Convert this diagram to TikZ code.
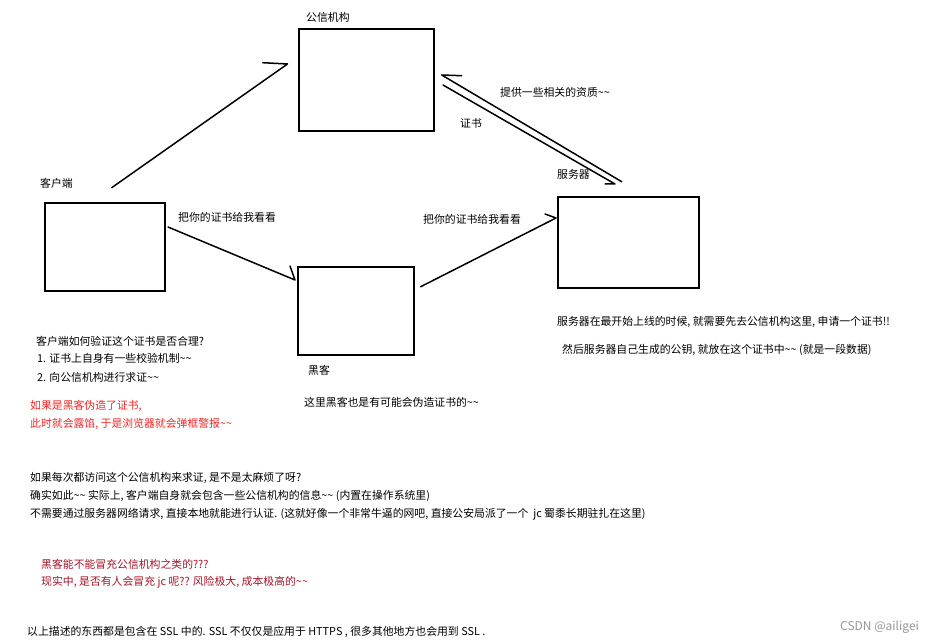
\documentclass[tikz,border=0pt]{standalone}
\usepackage{fontspec}
\setmainfont{Noto Sans CJK SC}
\definecolor{warnred}{RGB}{240,40,40}
\definecolor{darkred}{RGB}{165,20,40}
\definecolor{wmgray}{RGB}{150,150,150}
\begin{document}
\begin{tikzpicture}[x=1pt,y=-1pt,
  box/.style={draw, line width=1.7pt, anchor=north west, inner sep=0},
  txt/.style={anchor=west, inner sep=0, font=\fontsize{10.85}{13}\selectfont},
  conn/.style={line width=1.5pt, line cap=round, line join=round}]
\useasboundingbox[fill=white] (0,0) rectangle (936,644);

% boxes
\node[box, minimum width=135pt, minimum height=102pt] (ca) at (298,28) {};
\node[box, minimum width=120pt, minimum height=88pt] (client) at (44,202) {};
\node[box, minimum width=116pt, minimum height=88pt] (hacker) at (297,266) {};
\node[box, minimum width=141pt, minimum height=91pt] (server) at (557,196) {};

% box labels
\node[txt] (lca) at (306,17) {公信机构};
\node[txt] (lclient) at (40,183) {客户端};
\node[txt] (lserver) at (557,174) {服务器};
\node[txt] (lhacker) at (308,370) {黑客};

% connector end points
\coordinate (c1s) at (111.7,187.7);
\coordinate (c1t) at (287.5,64);
\coordinate (c1b) at (262.7,62.7);
\coordinate (c2s) at (168,227);
\coordinate (c2t) at (295,280);
\coordinate (c2b) at (290,266);
\coordinate (c3s) at (420.7,286.7);
\coordinate (c3t) at (556,218);
\coordinate (c3b) at (545,214);
\coordinate (c4s) at (621.7,181.7);
\coordinate (c4t) at (441.7,75);
\coordinate (c4b) at (461.7,75.7);
\coordinate (c5s) at (443,85);
\coordinate (c5t) at (615,184);
\coordinate (c5b) at (605,184);

\draw[conn] (c1s) -- (c1t) -- (c1b);
\draw[conn] (c2s) -- (c2t) -- (c2b);
\draw[conn] (c3s) -- (c3t) -- (c3b);
\draw[conn] (c4s) -- (c4t) -- (c4b);
\draw[conn] (c5s) -- (c5t) -- (c5b);

% connector labels
\node[txt] (l4) at (500,92) {提供一些相关的资质\textasciitilde\textasciitilde};
\node[txt] (l5) at (460,123) {证书};
\node[txt] (l2) at (178,217) {把你的证书给我看看};
\node[txt] (l3) at (423,219) {把你的证书给我看看};

% notes
\node[txt] (n1) at (36,341) {客户端如何验证这个证书是否合理?};
\node[txt] (n2) at (37,358) {1. 证书上自身有一些校验机制\textasciitilde\textasciitilde};
\node[txt] (n3) at (37,377) {2. 向公信机构进行求证\textasciitilde\textasciitilde};
\node[txt, text=warnred] (n4) at (30,406) {如果是黑客伪造了证书,};
\node[txt, text=warnred] (n5) at (30,424) {此时就会露馅, 于是浏览器就会弹框警报\textasciitilde\textasciitilde};
\node[txt] (n6) at (304,402) {这里黑客也是有可能会伪造证书的\textasciitilde\textasciitilde};
\node[txt] (n7) at (557,322) {服务器在最开始上线的时候, 就需要先去公信机构这里, 申请一个证书!!};
\node[txt] (n8) at (562,350) {然后服务器自己生成的公钥, 就放在这个证书中\textasciitilde\textasciitilde{} (就是一段数据)};
\node[txt] (n9) at (30,478) {如果每次都访问这个公信机构来求证, 是不是太麻烦了呀?};
\node[txt] (n10) at (30,496) {确实如此\textasciitilde\textasciitilde{} 实际上, 客户端自身就会包含一些公信机构的信息\textasciitilde\textasciitilde{} (内置在操作系统里)};
\node[txt] (n11) at (30,514) {不需要通过服务器网络请求, 直接本地就能进行认证. (这就好像一个非常牛逼的网吧, 直接公安局派了一个\ \ jc 蜀黍长期驻扎在这里)};
\node[txt, text=darkred] (n12) at (41,564) {黑客能不能冒充公信机构之类的???};
\node[txt, text=darkred] (n13) at (41,582) {现实中, 是否有人会冒充 jc 呢?? 风险极大, 成本极高的\textasciitilde\textasciitilde};
\node[txt] (n14) at (27,632) {以上描述的东西都是包含在 SSL 中的. SSL 不仅仅是应用于 HTTPS , 很多其他地方也会用到 SSL .};
\node[txt, text=wmgray, font=\fontsize{12}{14}\selectfont] (wm) at (840,627) {CSDN @ailigei};
\end{tikzpicture}
\end{document}
